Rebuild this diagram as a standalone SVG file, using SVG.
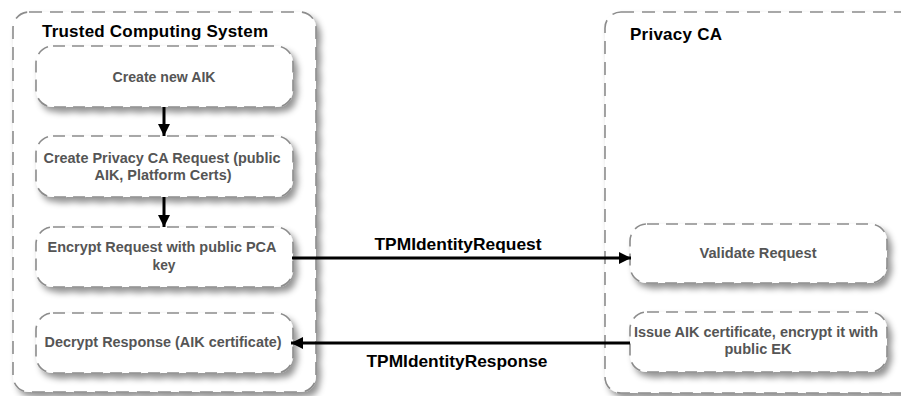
<svg xmlns="http://www.w3.org/2000/svg" width="901" height="396" viewBox="0 0 901 396">
  <style>
    .lane { fill: #ffffff; stroke: #8c8c8c; stroke-width: 1.6; stroke-dasharray: 13 8; filter: url(#shadow); }
    .box { fill: #ffffff; stroke: #8c8c8c; stroke-width: 1.6; stroke-dasharray: 12 7; filter: url(#shadow); }
    .lane-title { font-family: "Liberation Sans", Arial, sans-serif; font-weight: bold; font-size: 17px; fill: #000000; }
    .box-text { font-family: "Liberation Sans", Arial, sans-serif; font-weight: bold; font-size: 14.5px; fill: #555555; text-anchor: middle; }
    .msg { font-family: "Liberation Sans", Arial, sans-serif; font-weight: bold; font-size: 16.5px; fill: #000000; text-anchor: middle; }
    .flow { stroke: #000000; stroke-width: 3; fill: none; }
  </style>
  <defs>
    <filter id="shadow" x="-10%" y="-10%" width="130%" height="140%">
      <feDropShadow dx="4" dy="5" stdDeviation="3" flood-color="#000000" flood-opacity="0.42"/>
    </filter>
    <marker id="arrow" viewBox="0 0 12 12" refX="12" refY="6" markerWidth="12" markerHeight="12" markerUnits="userSpaceOnUse" orient="auto">
      <path d="M0,0 L12,6 L0,12 Z" fill="#000000"/>
    </marker>
  </defs>

  <rect width="901" height="396" fill="#ffffff"/>

  <!-- swimlanes -->
  <g id="lane-tcs">
    <rect class="lane" x="13" y="12" width="303" height="380" rx="16" ry="16"/>
    <text class="lane-title" x="42" y="37" textLength="226" lengthAdjust="spacing">Trusted Computing System</text>
  </g>
  <g id="lane-pca">
    <rect class="lane" x="605" y="12" width="320" height="381" rx="16" ry="16"/>
    <text class="lane-title" x="630" y="40" textLength="92" lengthAdjust="spacing">Privacy CA</text>
  </g>

  <!-- activity nodes -->
  <g id="create-aik">
    <rect class="box" x="36" y="46" width="257" height="61" rx="17" ry="17"/>
    <text class="box-text" x="164" y="82" textLength="103" lengthAdjust="spacingAndGlyphs">Create new AIK</text>
  </g>
  <g id="create-request">
    <rect class="box" x="36" y="136" width="257" height="61" rx="17" ry="17"/>
    <text class="box-text" x="162" y="163" textLength="237" lengthAdjust="spacingAndGlyphs">Create Privacy CA Request (public</text>
    <text class="box-text" x="163" y="180" textLength="137" lengthAdjust="spacingAndGlyphs">AIK, Platform Certs)</text>
  </g>
  <g id="encrypt-request">
    <rect class="box" x="36" y="227" width="257" height="60" rx="17" ry="17"/>
    <text class="box-text" x="162" y="252" textLength="229" lengthAdjust="spacingAndGlyphs">Encrypt Request with public PCA</text>
    <text class="box-text" x="164" y="270" textLength="23" lengthAdjust="spacingAndGlyphs">key</text>
  </g>
  <g id="decrypt-response">
    <rect class="box" x="36" y="313" width="257" height="60" rx="17" ry="17"/>
    <text class="box-text" x="163" y="347" textLength="237" lengthAdjust="spacingAndGlyphs">Decrypt Response (AIK certificate)</text>
  </g>
  <g id="validate-request">
    <rect class="box" x="630" y="224" width="257" height="59" rx="17" ry="17"/>
    <text class="box-text" x="758" y="258" textLength="117" lengthAdjust="spacingAndGlyphs">Validate Request</text>
  </g>
  <g id="issue-aik">
    <rect class="box" x="630" y="312" width="257" height="60" rx="17" ry="17"/>
    <text class="box-text" x="756" y="337" textLength="244" lengthAdjust="spacingAndGlyphs">Issue AIK certificate, encrypt it with</text>
    <text class="box-text" x="758" y="354" textLength="67" lengthAdjust="spacingAndGlyphs">public EK</text>
  </g>

  <!-- connectors -->
  <g id="connectors">
    <line class="flow" x1="164" y1="107" x2="164" y2="136" marker-end="url(#arrow)"/>
    <line class="flow" x1="164" y1="197" x2="164" y2="227" marker-end="url(#arrow)"/>
    <line class="flow" x1="292" y1="258" x2="631" y2="258" marker-end="url(#arrow)"/>
    <line class="flow" x1="630" y1="343" x2="291" y2="343" marker-end="url(#arrow)"/>
    <text class="msg" x="458" y="250" textLength="167" lengthAdjust="spacingAndGlyphs">TPMIdentityRequest</text>
    <text class="msg" x="457" y="367" textLength="181" lengthAdjust="spacingAndGlyphs">TPMIdentityResponse</text>
  </g>
</svg>
